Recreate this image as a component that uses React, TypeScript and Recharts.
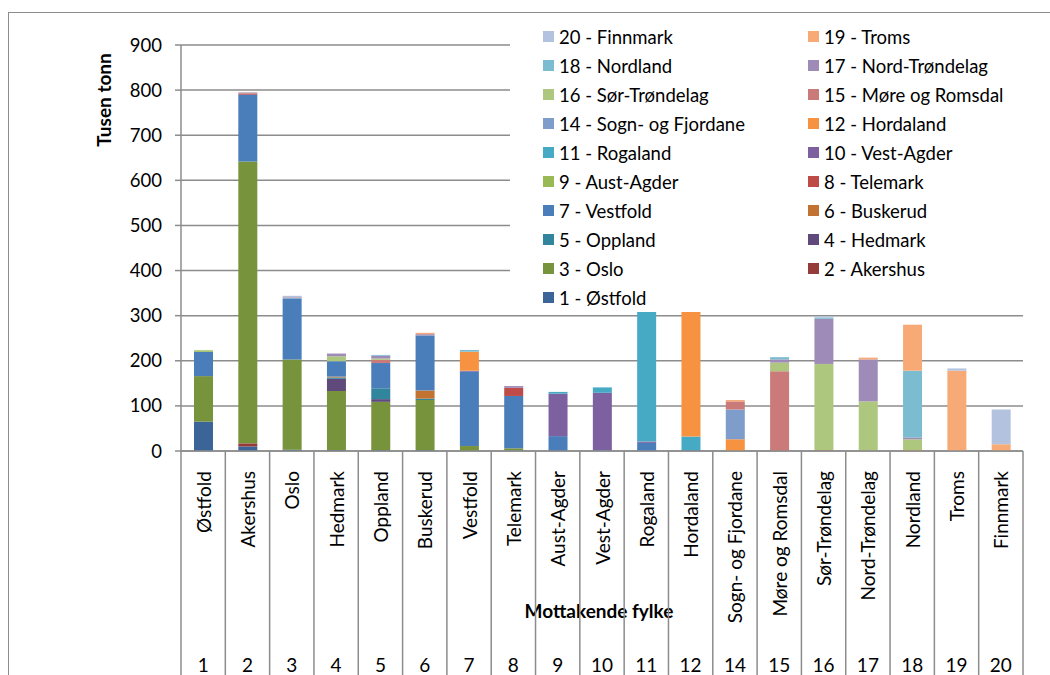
import React from 'react';
import { BarChart, Bar, XAxis, YAxis, CartesianGrid, Legend, Label } from 'recharts';

// Mottakende fylke (kategorier på x-aksen)
const fylkeNr = ['1', '2', '3', '4', '5', '6', '7', '8', '9', '10', '11', '12', '14', '15', '16', '17', '18', '19', '20'];
const fylkeNavn = [
  'Østfold', 'Akershus', 'Oslo', 'Hedmark', 'Oppland', 'Buskerud', 'Vestfold', 'Telemark',
  'Aust-Agder', 'Vest-Agder', 'Rogaland', 'Hordaland', 'Sogn- og Fjordane', 'Møre og Romsdal',
  'Sør-Trøndelag', 'Nord-Trøndelag', 'Nordland', 'Troms', 'Finnmark',
];

// Tusen tonn sendt fra hvert fylke, i samme rekkefølge som fylkeNavn
const ostfold = [65, 10, 3, 2, 2, 2, 0, 1, 0, 0, 0, 0, 0, 0, 0, 0, 0, 0, 0];
const akershus = [0, 7, 0, 0, 0, 0, 0, 0, 0, 0, 0, 0, 0, 0, 0, 0, 0, 0, 0];
const oslo = [101, 625, 200, 131, 107, 111, 11, 5, 0, 0, 0, 0, 0, 0, 0, 0, 0, 0, 0];
const hedmark = [0, 0, 0, 27, 6, 0, 0, 0, 0, 0, 0, 0, 0, 0, 0, 0, 0, 0, 0];
const oppland = [0, 0, 0, 3, 24, 3, 0, 0, 0, 0, 0, 0, 0, 0, 0, 0, 0, 0, 0];
const buskerud = [0, 0, 0, 2, 0, 18, 0, 0, 0, 0, 0, 0, 0, 0, 0, 0, 0, 0, 0];
const vestfold = [54, 148, 135, 34, 56, 122, 165, 116, 33, 2, 18, 2, 0, 0, 0, 0, 0, 0, 0];
const telemark = [0, 2, 0, 0, 0, 0, 0, 18, 0, 0, 0, 0, 0, 0, 0, 0, 0, 0, 0];
const austAgder = [3, 0, 0, 0, 0, 0, 0, 0, 0, 0, 0, 0, 0, 0, 0, 0, 0, 0, 0];
const vestAgder = [0, 0, 0, 0, 0, 0, 2, 0, 94, 127, 3, 0, 0, 0, 0, 0, 0, 0, 0];
const rogaland = [0, 0, 0, 0, 0, 0, 0, 0, 4, 12, 289, 30, 0, 0, 0, 0, 0, 0, 0];
const hordaland = [0, 0, 0, 0, 0, 0, 42, 0, 0, 0, 0, 278, 26, 0, 0, 0, 2, 0, 0];
const sognFjordane = [0, 0, 2, 0, 0, 0, 0, 0, 0, 0, 0, 0, 66, 0, 0, 0, 0, 0, 0];
const moreRomsdal = [0, 2, 1, 0, 7, 0, 0, 0, 0, 0, 0, 0, 18, 177, 2, 1, 0, 0, 0];
const sorTrondelag = [1, 0, 0, 11, 3, 0, 0, 0, 0, 0, 0, 0, 0, 19, 191, 109, 24, 0, 0];
const nordTrondelag = [0, 1, 0, 6, 6, 3, 0, 4, 0, 0, 0, 0, 0, 7, 100, 93, 4, 0, 0];
const nordland = [0, 0, 0, 0, 2, 0, 4, 0, 0, 0, 0, 0, 0, 5, 3, 0, 148, 0, 0];
const troms = [0, 0, 0, 0, 0, 3, 0, 0, 0, 0, 0, 0, 3, 0, 0, 4, 102, 178, 15];
const finnmark = [0, 0, 3, 0, 0, 0, 0, 0, 0, 0, 0, 0, 0, 0, 2, 0, 0, 5, 77];

const serier = [
  { key: 'ostfold', navn: '1 - Østfold', farge: '#3B6598', verdier: ostfold },
  { key: 'akershus', navn: '2 - Akershus', farge: '#953B39', verdier: akershus },
  { key: 'oslo', navn: '3 - Oslo', farge: '#77933C', verdier: oslo },
  { key: 'hedmark', navn: '4 - Hedmark', farge: '#604A7B', verdier: hedmark },
  { key: 'oppland', navn: '5 - Oppland', farge: '#31859C', verdier: oppland },
  { key: 'buskerud', navn: '6 - Buskerud', farge: '#C27332', verdier: buskerud },
  { key: 'vestfold', navn: '7 - Vestfold', farge: '#4A7EBB', verdier: vestfold },
  { key: 'telemark', navn: '8 - Telemark', farge: '#BE4B48', verdier: telemark },
  { key: 'austAgder', navn: '9 - Aust-Agder', farge: '#98B954', verdier: austAgder },
  { key: 'vestAgder', navn: '10 - Vest-Agder', farge: '#7D60A0', verdier: vestAgder },
  { key: 'rogaland', navn: '11 - Rogaland', farge: '#46AAC5', verdier: rogaland },
  { key: 'hordaland', navn: '12 - Hordaland', farge: '#F69240', verdier: hordaland },
  { key: 'sognFjordane', navn: '14 - Sogn- og Fjordane', farge: '#7F9DCB', verdier: sognFjordane },
  { key: 'moreRomsdal', navn: '15 - Møre og Romsdal', farge: '#CA7B79', verdier: moreRomsdal },
  { key: 'sorTrondelag', navn: '16 - Sør-Trøndelag', farge: '#AEC77E', verdier: sorTrondelag },
  { key: 'nordTrondelag', navn: '17 - Nord-Trøndelag', farge: '#9F8BB7', verdier: nordTrondelag },
  { key: 'nordland', navn: '18 - Nordland', farge: '#7CBCD0', verdier: nordland },
  { key: 'troms', navn: '19 - Troms', farge: '#F8AA76', verdier: troms },
  { key: 'finnmark', navn: '20 - Finnmark', farge: '#B3C3DF', verdier: finnmark },
];

const yTicks = [0, 100, 200, 300, 400, 500, 600, 700, 800, 900];

const data = fylkeNavn.map((navn, i) => {
  const rad: Record<string, string | number> = { navn, nr: fylkeNr[i] };
  serier.forEach((s) => {
    rad[s.key] = s.verdier[i];
  });
  return rad;
});

// oppsett
const W = 1050;
const H = 700;
const PLOT_RIGHT = 1023;
const PLOT_LEFT = 181;
const AXIS_Y = 451;
const BAND = (PLOT_RIGHT - PLOT_LEFT) / fylkeNavn.length;
const GREY = '#8c8c8c';
const FONT = 'Lato, "Open Sans", sans-serif';

// navn rotert, tabellinjer mellom kategoriene og fylkesnummer nederst
function FylkeTick(props: any) {
  const { x, payload } = props;
  const i = payload.index;
  const last = i === fylkeNavn.length - 1;
  return (
    <g>
      <line x1={x - BAND / 2} x2={x - BAND / 2} y1={AXIS_Y} y2={H} stroke={GREY} strokeWidth={1.5} />
      {last && <line x1={x + BAND / 2} x2={x + BAND / 2} y1={AXIS_Y} y2={H} stroke={GREY} strokeWidth={1.5} />}
      <text
        x={x}
        y={471}
        transform={`rotate(-90 ${x} 471)`}
        textAnchor="end"
        dominantBaseline="central"
        fontSize={19}
        fontFamily={FONT}
        fill="#000"
      >
        {payload.value}
      </text>
      <text x={x} y={672} textAnchor="middle" fontSize={19} fontFamily={FONT} fill="#000">
        {fylkeNr[i]}
      </text>
    </g>
  );
}

// to kolonner, serie 20 først
function Tegnforklaring() {
  const items = [...serier].reverse();
  return (
    <div
      style={{
        display: 'grid',
        gridTemplateColumns: '265px 265px',
        paddingLeft: 33,
        paddingTop: 2,
        fontFamily: FONT,
        fontSize: 18.5,
        color: '#000',
      }}
    >
      {items.map((s) => (
        <div key={s.key} style={{ display: 'flex', alignItems: 'center', height: 29, whiteSpace: 'nowrap' }}>
          <span style={{ display: 'inline-block', width: 11, height: 11, background: s.farge, marginRight: 5 }} />
          {s.navn}
        </div>
      ))}
    </div>
  );
}

export default function App() {
  return (
    <div style={{ position: 'absolute', left: 0, top: 0, width: W, height: 675, overflow: 'hidden', background: '#fff' }}>
      <div
        style={{
          position: 'absolute',
          left: 8,
          top: 12,
          width: 1100,
          height: 800,
          border: `1.5px solid ${GREY}`,
        }}
      />
      <div style={{ position: 'absolute', left: 0, top: 0 }}>
        <BarChart
          width={W}
          height={H}
          data={data}
          margin={{ top: 45, right: W - PLOT_RIGHT, bottom: 25, left: PLOT_LEFT - 60 }}
        >
          <CartesianGrid vertical={false} stroke={GREY} strokeWidth={1.5} />
          <XAxis
            dataKey="navn"
            interval={0}
            height={H - 25 - AXIS_Y}
            tickLine={false}
            axisLine={{ stroke: GREY, strokeWidth: 1.5 }}
            tick={<FylkeTick />}
          >
            <Label
              content={() => (
                <text x={599} y={610} textAnchor="middle" dominantBaseline="central" fontSize={19} fontWeight="bold" fontFamily={FONT} fill="#000">
                  Mottakende fylke
                </text>
              )}
            />
          </XAxis>
          <YAxis
            width={60}
            domain={[0, 900]}
            ticks={yTicks}
            interval={0}
            tickSize={6}
            tickMargin={13}
            tickLine={{ stroke: GREY, strokeWidth: 1.5 }}
            axisLine={{ stroke: GREY, strokeWidth: 1.5 }}
            tick={{ fill: '#000', fontSize: 18.5, fontFamily: FONT }}
          >
            <Label
              content={() => (
                <text
                  x={103}
                  y={100}
                  transform="rotate(-90 103 100)"
                  textAnchor="middle"
                  dominantBaseline="central"
                  fontSize={19}
                  fontWeight="bold"
                  fontFamily={FONT}
                  fill="#000"
                >
                  Tusen tonn
                </text>
              )}
            />
          </YAxis>
          <Legend
            layout="vertical"
            align="center"
            verticalAlign="middle"
            content={<Tegnforklaring />}
            wrapperStyle={{ left: 510, top: 20, width: 535, height: 292, background: '#fff' }}
          />
          {serier.map((s) => (
            <Bar
              key={s.key}
              dataKey={s.key}
              name={s.navn}
              stackId="a"
              fill={s.farge}
              barSize={19}
              isAnimationActive={false}
            />
          ))}
        </BarChart>
      </div>
    </div>
  );
}
